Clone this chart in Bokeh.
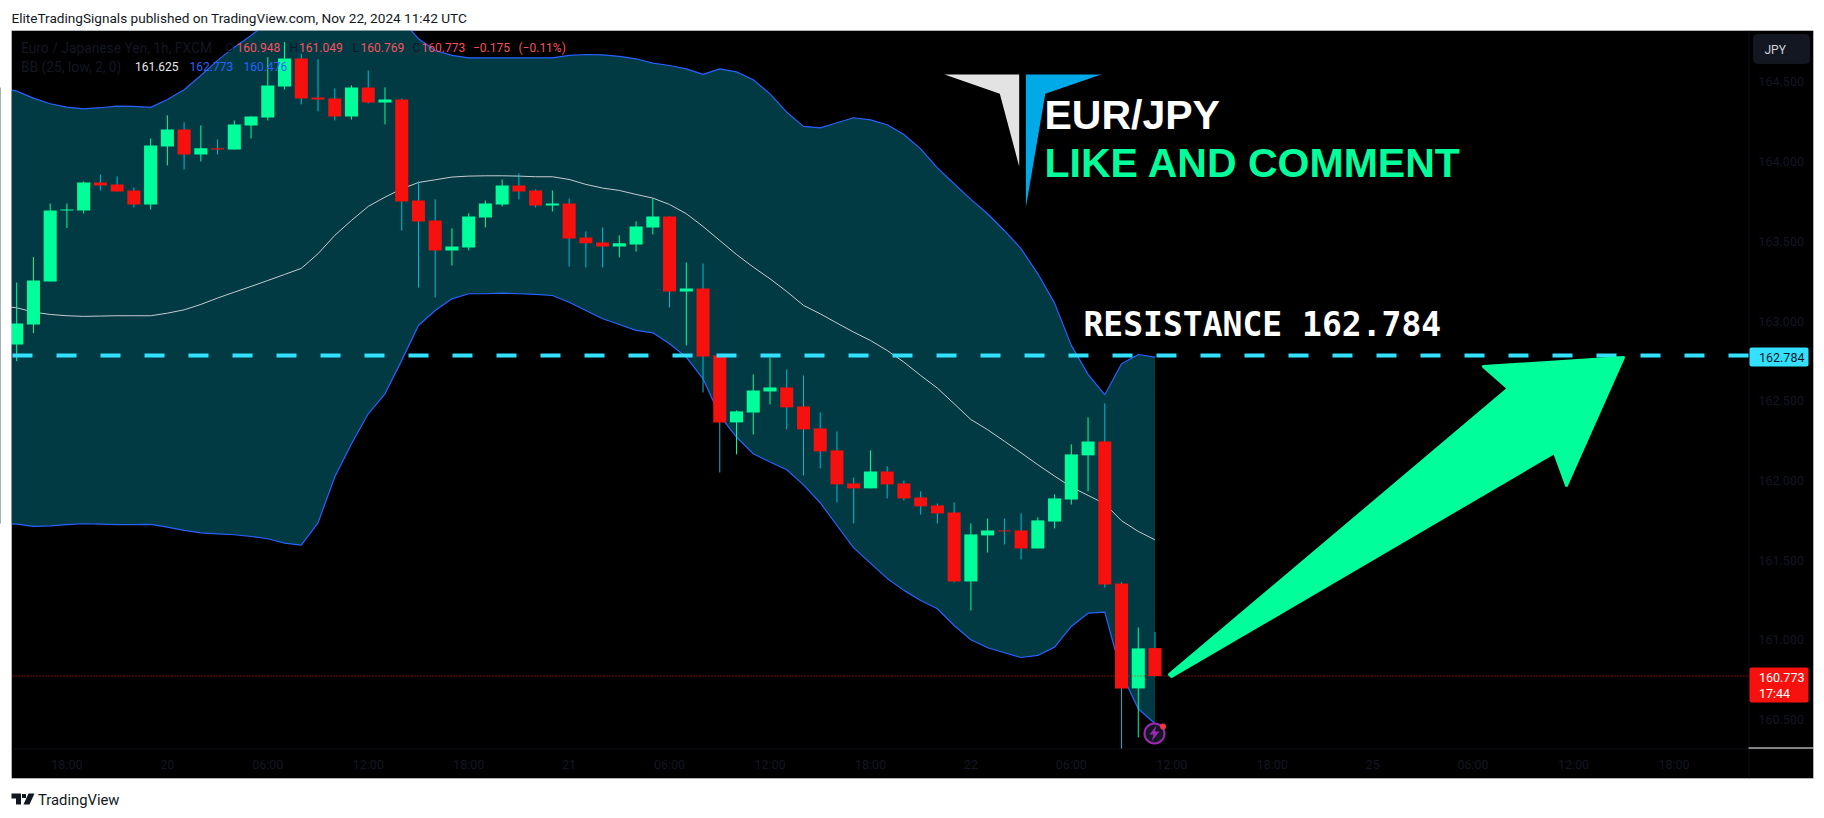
from bokeh.plotting import figure
from bokeh.embed import file_html
from bokeh.resources import INLINE
from bokeh.models import (Range1d, FixedTicker, NumeralTickFormatter, Label,
                          BoxAnnotation, PolyAnnotation)

# ---- data (1h EUR/JPY candles, index 0 = 19 Nov 15:00) ----
open_ = [162.853,162.978,163.248,163.694,163.694,163.869,163.857,163.819,163.731,164.095,164.202,164.045,164.083,164.076,164.227,164.277,164.471,164.647,164.402,164.396,164.283,164.465,164.371,164.390,163.756,163.631,163.443,163.461,163.650,163.731,163.850,163.819,163.725,163.737,163.524,163.493,163.468,163.480,163.587,163.656,163.185,163.204,162.784,162.364,162.426,162.558,162.583,162.464,162.326,162.188,161.981,161.950,162.056,161.981,161.893,161.843,161.799,161.366,161.655,161.686,161.686,161.573,161.742,161.880,162.157,162.244,161.353,160.695,160.948]
close = [162.985,163.254,163.694,163.700,163.869,163.850,163.813,163.731,164.101,164.202,164.045,164.083,164.076,164.233,164.283,164.478,164.647,164.396,164.390,164.283,164.465,164.371,164.390,163.750,163.625,163.443,163.468,163.656,163.737,163.850,163.813,163.725,163.737,163.518,163.487,163.468,163.487,163.593,163.656,163.185,163.204,162.778,162.364,162.433,162.564,162.583,162.458,162.320,162.182,161.975,161.950,162.056,161.975,161.887,161.837,161.793,161.366,161.661,161.686,161.680,161.573,161.749,161.887,162.163,162.244,161.347,160.695,160.946,160.773]
high = [163.242,163.401,163.737,163.737,163.875,163.919,163.907,163.838,164.145,164.290,164.246,164.227,164.139,164.258,164.283,164.655,164.750,164.676,164.641,164.459,164.478,164.572,164.465,164.396,163.875,163.763,163.581,163.675,163.756,163.888,163.926,163.825,163.819,163.769,163.562,163.587,163.537,163.625,163.769,163.656,163.367,163.361,162.784,162.439,162.665,162.771,162.696,162.658,162.426,162.307,162.018,162.188,162.088,162.000,161.931,161.855,161.862,161.730,161.761,161.761,161.793,161.768,161.912,162.226,162.395,162.483,161.360,161.077,161.049]
low = [162.748,162.924,163.248,163.583,163.675,163.819,163.813,163.712,163.700,163.976,163.951,164.001,164.045,164.076,164.145,164.258,164.453,164.359,164.315,164.258,164.264,164.365,164.233,163.568,163.210,163.148,163.348,163.443,163.587,163.719,163.763,163.712,163.687,163.342,163.336,163.336,163.399,163.436,163.543,163.085,162.847,162.552,162.050,162.163,162.288,162.477,162.320,162.031,162.075,161.862,161.730,161.950,161.887,161.874,161.786,161.730,161.360,161.184,161.548,161.598,161.504,161.573,161.699,161.849,161.931,161.328,160.318,160.387,160.769]

# Bollinger bands, starting one bar before the first candle
band_x = list(range(-1, 69))
bb_upper = [164.462,164.442,164.398,164.363,164.342,164.331,164.338,164.348,164.346,164.340,164.390,164.451,164.540,164.635,164.718,164.791,164.875,164.927,164.959,164.959,164.959,164.959,164.948,164.927,164.886,164.771,164.697,164.666,164.651,164.651,164.651,164.651,164.651,164.651,164.666,164.672,164.670,164.660,164.645,164.618,164.603,164.582,164.547,164.582,164.563,164.513,164.425,164.310,164.221,164.212,164.244,164.275,164.262,164.231,164.170,164.080,163.961,163.861,163.763,163.673,163.568,163.453,163.296,163.112,162.847,162.665,162.537,162.732,162.790,162.773]
bb_mid = [163.095,163.083,163.056,163.041,163.033,163.029,163.031,163.033,163.033,163.033,163.049,163.070,163.104,163.144,163.181,163.217,163.254,163.292,163.330,163.422,163.537,163.631,163.719,163.777,163.829,163.869,163.886,163.903,163.909,163.911,163.911,163.909,163.905,163.905,163.888,163.857,163.834,163.819,163.794,163.771,163.731,163.673,163.593,163.505,163.417,163.338,163.265,163.185,163.098,163.045,162.987,162.930,162.878,162.815,162.742,162.658,162.579,162.481,162.382,162.318,162.246,162.173,162.098,162.027,161.958,161.906,161.853,161.747,161.680,161.627]
bb_lower = [161.732,161.726,161.711,161.715,161.722,161.728,161.726,161.722,161.722,161.724,161.707,161.686,161.671,161.665,161.659,161.648,161.634,161.607,161.594,161.734,162.021,162.230,162.418,162.543,162.753,162.972,163.066,163.139,163.171,163.171,163.175,163.171,163.167,163.160,163.118,163.066,163.014,162.978,162.941,162.926,162.857,162.773,162.637,162.407,162.272,162.167,162.115,162.067,161.972,161.860,161.717,161.577,161.481,161.385,161.310,161.247,161.195,161.090,161.000,160.950,160.919,160.889,160.902,160.954,161.084,161.167,161.174,160.787,160.567,160.473]

resistance = 162.784
last_price = 160.773
price_ticks = [160.5, 161.0, 161.5, 162.0, 162.5, 163.0, 163.5, 164.0, 164.5]
time_ticks = [3, 9, 15, 21, 27, 33, 39, 45, 51, 57, 63, 69, 75, 81, 87, 93, 99]
time_labels = ["18:00","20","06:00","12:00","18:00","21","06:00","12:00","18:00","22","06:00","12:00","18:00","25","06:00","12:00","18:00"]

GREEN = "#00FF9A"; RED = "#F7110E"; WICK_DOWN = "#00BCD4"; FILL = "#013A43"
BLUE = "#2962FF"; MID = "#C8CBD2"; CYAN = "#33E0FF"; INK = "#131722"

W, H = 1824, 818
X0, DX = 16.2, 16.74
P0, PY0, DY = 160.5, 719.0, 159.4
px = lambda v: (v - X0) / DX
py = lambda v: P0 + (PY0 - v) / DY

# the plot frame covers the whole page; the chart rectangle and page margins are drawn inside it
p = figure(width=W, height=H, output_backend="svg", toolbar_location=None,
           x_range=Range1d(px(0), px(W)), y_range=Range1d(py(H), py(0)),
           y_axis_location="right", tools="",
           min_border_left=0, min_border_right=0, min_border_top=0, min_border_bottom=0,
           background_fill_color="white", border_fill_color="white")
p.outline_line_color = None
p.grid.grid_line_color = None

for ax in (p.xaxis[0], p.yaxis[0]):
    ax.axis_line_color = None
    ax.major_tick_line_color = None
    ax.minor_tick_line_color = None
    ax.major_tick_out = 0
    ax.major_tick_in = 0
    ax.major_label_text_color = INK
    ax.major_label_text_font = "Roboto"
    ax.major_label_text_font_size = "12.5px"
p.xaxis[0].ticker = FixedTicker(ticks=time_ticks)
p.xaxis[0].major_label_overrides = dict(zip(time_ticks, time_labels))
p.xaxis[0].major_label_standoff = -62
p.yaxis[0].ticker = FixedTicker(ticks=price_ticks)
p.yaxis[0].formatter = NumeralTickFormatter(format="0.000")
p.yaxis[0].major_label_standoff = -66

def box(l, r, t, b, fill, line=None, level="annotation", radius=0, alpha=1, width=1):
    p.add_layout(BoxAnnotation(left=l, right=r, top=t, bottom=b, level=level, border_radius=radius,
                               left_units="canvas", right_units="canvas", top_units="canvas", bottom_units="canvas",
                               fill_color=fill, fill_alpha=alpha, line_color=line, line_width=width))

# chart rectangle
box(11, 1813, 30, 778, "black", level="underlay")
box(1748, 1749, 30, 778, "#0C0E14", level="underlay")
box(11, 1813, 748, 749, "#0C0E14", level="underlay")

# Bollinger bands
p.varea(band_x, bb_lower, bb_upper, fill_color=FILL)
p.line(band_x, bb_upper, line_color=BLUE, line_width=1.2)
p.line(band_x, bb_lower, line_color=BLUE, line_width=1.2)
p.line(band_x, bb_mid, line_color=MID, line_width=1)

# candles
idx = list(range(len(open_)))
up = [c >= o for o, c in zip(open_, close)]
p.segment(idx, high, idx, low, line_width=1, line_color=[GREEN if u else WICK_DOWN for u in up])
p.vbar(idx, 0.78, [max(o, c) for o, c in zip(open_, close)], [min(o, c) for o, c in zip(open_, close)],
       fill_color=[GREEN if u else RED for u in up], line_color=None)

# horizontal levels
p.line([px(12), px(1748)], [resistance, resistance], line_color=CYAN, line_width=4, line_dash="20 24")
p.line([px(12), px(1748)], [last_price, last_price], line_color=RED, line_width=1, line_dash="1 2")

# green arrow
p.patch([px(v) for v in (1169, 1508, 1483, 1623, 1566, 1554, 1171)],
        [py(v) for v in (674, 388, 366, 357, 485, 452, 676)],
        fill_color=GREEN, line_color=GREEN, line_width=3, line_join="round")

# logo
p.patch([px(v) for v in (944, 1018.7, 1018.7, 999.3)], [py(v) for v in (74, 74, 166, 93.3)],
        fill_color="#E3E3E3", line_color=None)
p.patch([px(v) for v in (1025.4, 1100.6, 1044.8, 1025.4)], [py(v) for v in (74, 74, 93.3, 206.7)],
        fill_color="#00A9E8", line_color=None)

# alert icon
p.scatter([px(1154)], [py(733)], size=20, marker="circle", fill_color=INK, line_color="#9C27B0", line_width=2)
p.patch([px(v) for v in (1156, 1149, 1153, 1151, 1159, 1154.5)], [py(v) for v in (725, 734, 734, 741, 731, 731)],
        fill_color="#9C27B0", line_color=None)
p.scatter([px(1162.5)], [py(726)], size=6, marker="circle", fill_color="#F23645", line_color=None)

# page margins painted over the parts of the glyphs that leave the chart rectangle
box(0, W, 0, 30, "white")
box(0, W, 778, H, "white")
box(0, 11, 0, H, "white")
box(1813, W, 0, H, "white")
box(11, 1813, 30, 778, None, line="#9598A1", alpha=0)

def label(text, x, y, size, color, font="Roboto", weight="normal"):
    p.add_layout(Label(x=x, y=y, x_units="canvas", y_units="canvas", text=text,
                       text_font=font, text_font_size=f"{size}px", text_color=color,
                       text_align="left", text_baseline="middle", text_font_style=weight))

# large overlay texts
label("EUR/JPY", 1044, 114, 41, "white", font="Liberation Sans", weight="bold")
label("LIKE AND COMMENT", 1044, 162, 41, GREEN, font="Liberation Sans", weight="bold")
label("RESISTANCE  162.784", 1083, 324, 33, "white", font="DejaVu Sans Mono", weight="bold")

# page header / footer
label("EliteTradingSignals published on TradingView.com, Nov 22, 2024 11:42 UTC", 11, 17, 13.6, INK)
label("TradingView", 37.5, 799, 14.8, INK)
for xs, ys in [((11, 20.5, 20.5, 15.5, 15.5, 11), (793, 793, 804, 804, 798, 798)),
               ((28, 34, 29, 23), (793, 793, 804, 804)),
               ((21.5, 25.5, 25.5, 21.5), (793.5, 793.5, 797.5, 797.5))]:
    p.add_layout(PolyAnnotation(xs=list(xs), ys=list(ys), xs_units="canvas", ys_units="canvas",
                                fill_color=INK, fill_alpha=1, line_color=None))

# legend rows
for text, x, y, c, s in [("Euro / Japanese Yen, 1h, FXCM", 20.5, 47, INK, 13.8), ("O", 225, 47, INK, 12), ("160.948", 236, 47, "#F7525F", 12),
                         ("H", 289, 47, INK, 12), ("161.049", 298.5, 47, "#F7525F", 12), ("L", 352, 47, INK, 12), ("160.769", 360, 47, "#F7525F", 12),
                         ("C", 412, 47, INK, 12), ("160.773", 421, 47, "#F7525F", 12), ("−0.175", 472.5, 47, "#F7525F", 12), ("(−0.11%)", 518, 47, "#F7525F", 12),
                         ("BB (25, low, 2, 0)", 20.5, 66, INK, 13.8), ("161.625", 134.4, 66, "#E8E8E8", 12), ("162.773", 189, 66, "#2962FF", 12), ("160.476", 243, 66, "#2962FF", 12)]:
    label(text, x, y, s, c)

# price tags and JPY button
box(1749, 1808, 347, 366, CYAN, radius=2)
box(1749, 1808, 667, 702, RED, radius=2)
box(1753, 1809, 34, 63, INK, line="#2A2E39", radius=4)
label("162.784", 1758.5, 356.5, 12.5, INK)
label("160.773", 1758.5, 677, 12.5, "white")
label("17:44", 1758.5, 693, 12.5, "white")
label("JPY", 1764, 49, 12, "#D1D4DC")

# short white rule at the foot of the price scale
box(1748, 1813, 747, 748, "white")

open("out.html", "w").write(file_html(p, INLINE))
